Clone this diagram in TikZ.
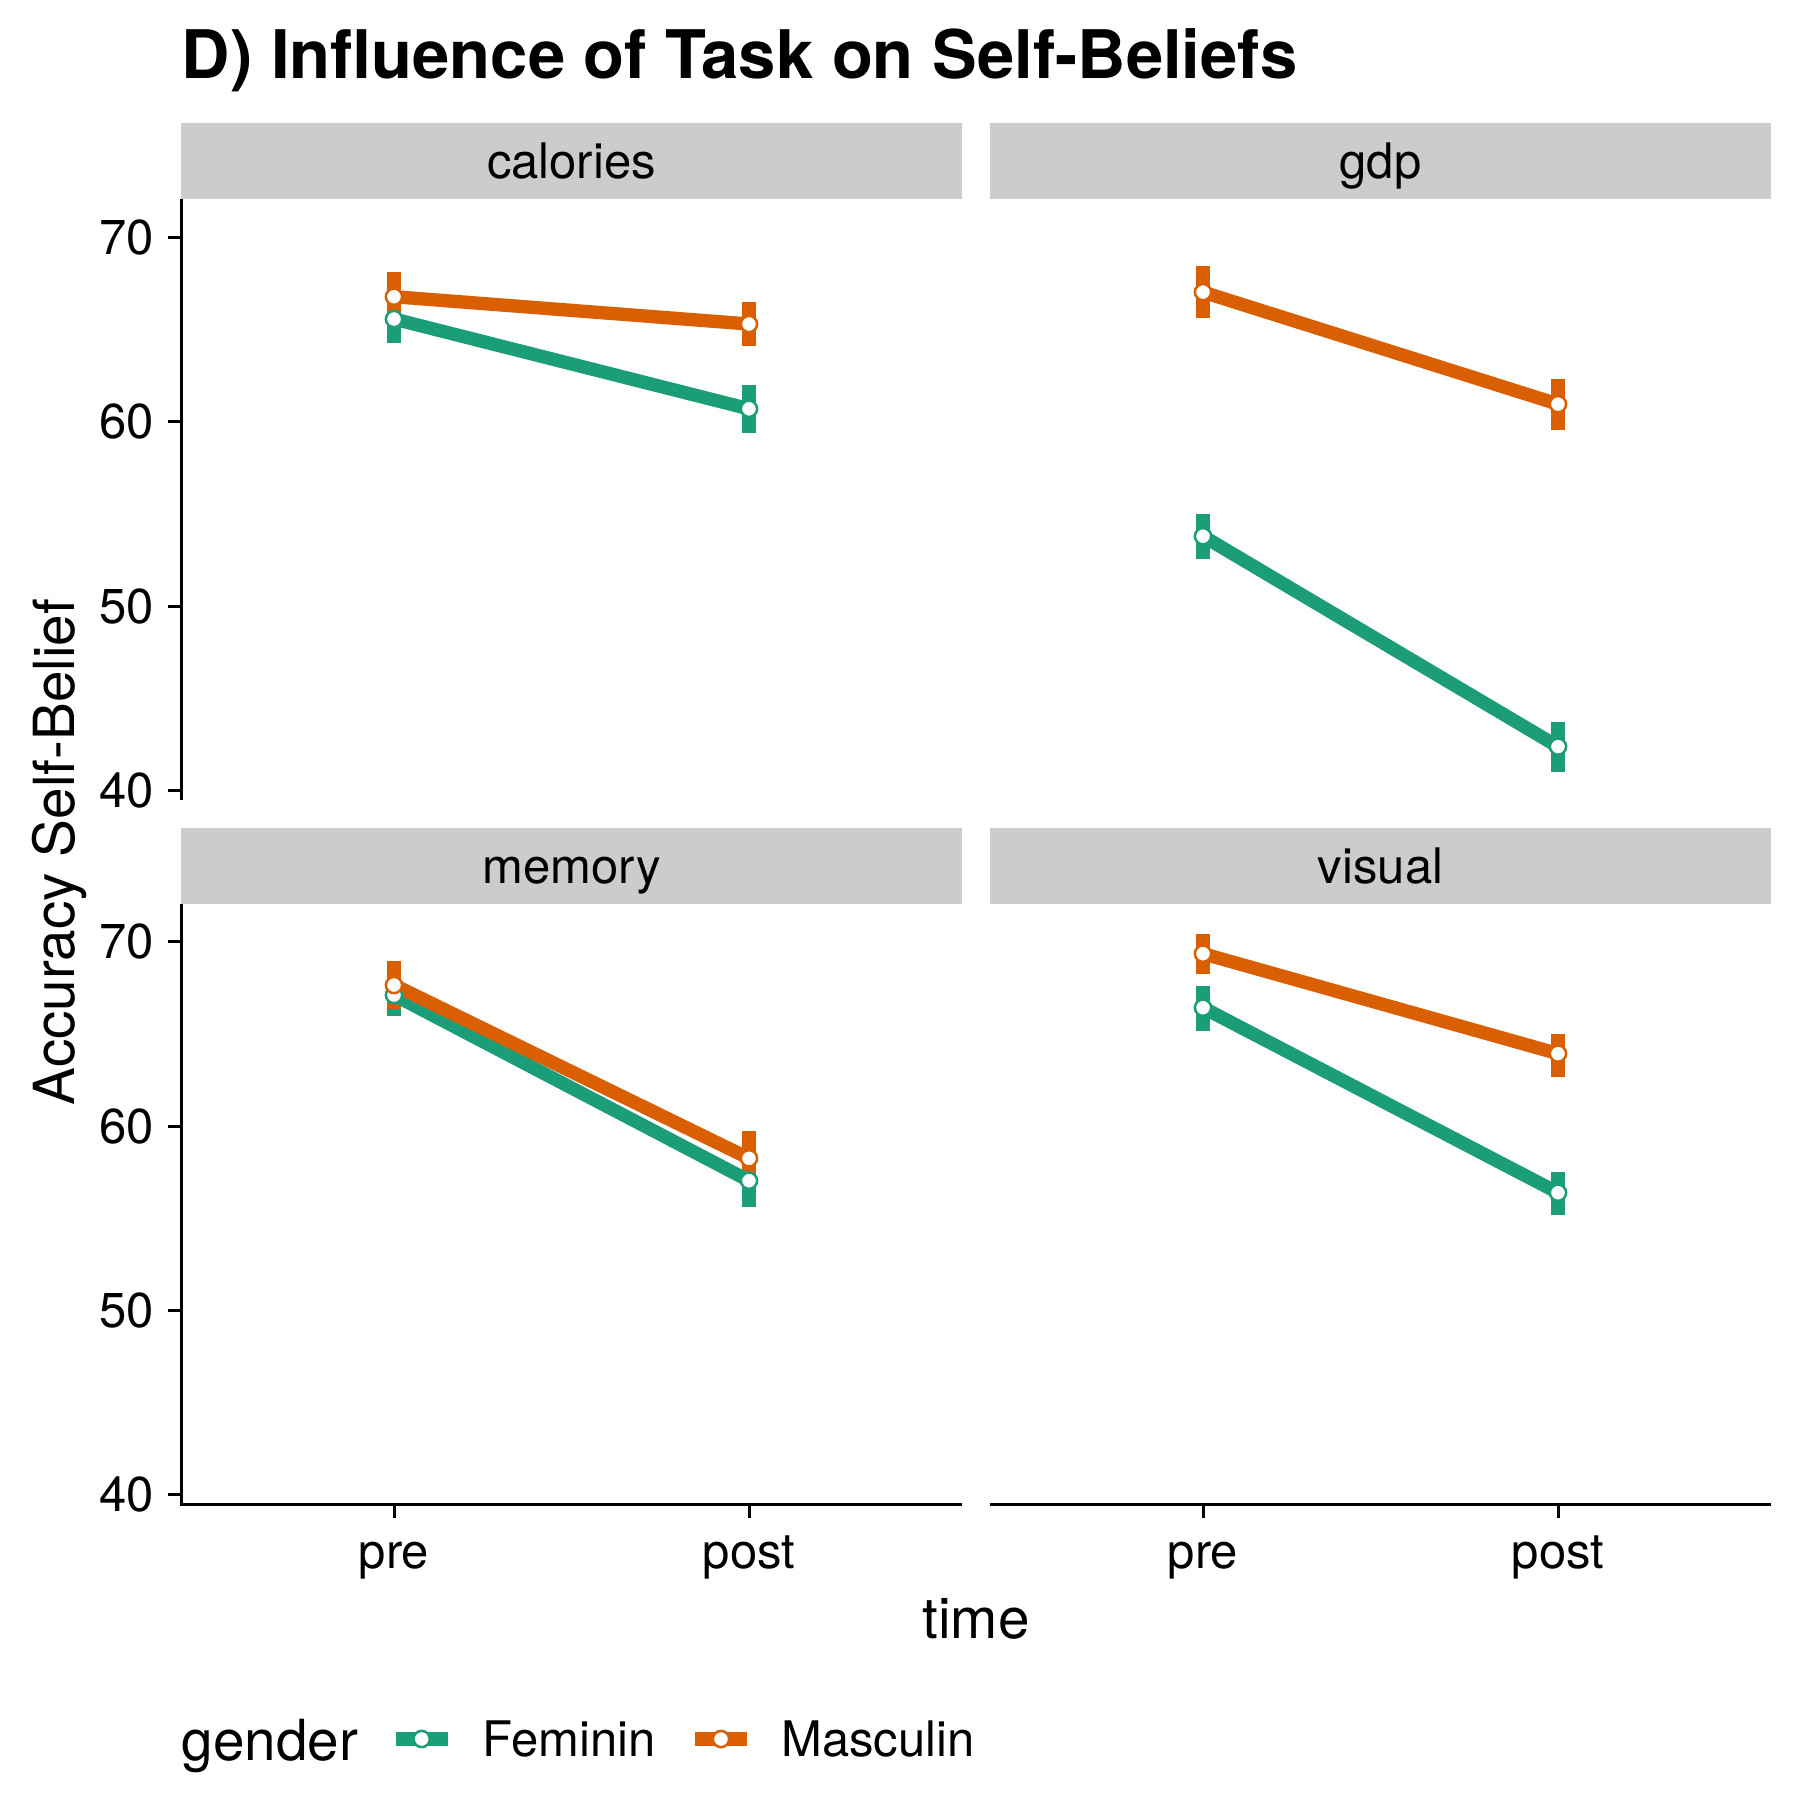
\documentclass[tikz,border=0pt]{standalone}
\usepackage{fontspec}
\setmainfont{TeX Gyre Heros}
\usepackage{tikz}
\usetikzlibrary{positioning}

\definecolor{fem}{HTML}{1B9E77}
\definecolor{masc}{HTML}{D95F02}
\definecolor{stripgray}{HTML}{CCCCCC}

\begin{document}
\begin{tikzpicture}
[x=0.24pt,y=-0.24pt]
\tikzset{
	strip/.style = {fill = stripgray, inner sep = 0, minimum width = 187.44pt, minimum height = 18.24pt,
		text height = 8.6pt, text depth = 0pt, font = \fontsize{11.76pt}{14pt}\selectfont},
	axisline/.style = {line width = 0.72pt, line cap = butt},
	ticklabel/.style = {inner sep = 0, font = \fontsize{11.76pt}{14pt}\selectfont},
	axistitle/.style = {inner sep = 0, font = \fontsize{13.6pt}{16pt}\selectfont},
	fembar/.style = {draw = fem, line width = 3.2pt, line cap = butt},
	mascbar/.style = {draw = masc, line width = 3.2pt, line cap = butt},
	femline/.style = {draw = fem, line width = 3.2pt},
	mascline/.style = {draw = masc, line width = 3.2pt},
	fempoint/.style = {circle, draw = fem, fill = white, line width = 0.6pt, inner sep = 0, minimum size = 3.9pt},
	mascpoint/.style = {circle, draw = masc, fill = white, line width = 0.6pt, inner sep = 0, minimum size = 3.9pt}
}
\useasboundingbox[fill = white] (0,0) rectangle (1800,1800);

% title
\node(title) [anchor = base west, inner sep = 0, font = \fontsize{16.08pt}{19pt}\selectfont\bfseries]
	at (181,78) {D) Influence of Task on Self-Beliefs};

% strips
\node(calories) [strip] at (571.5,161) {calories};
\node(gdp) [strip] at (1380.5,161) {gdp};
\node(memory) [strip] at (571.5,866) {memory};
\node(visual) [strip] at (1380.5,866) {visual};

% axes
\draw[axisline] (181.5,199) -- (181.5,800);
\draw[axisline] (181.5,904.3) -- (181.5,1505.3);
\draw[axisline] (180,1504) -- (962,1504);
\draw[axisline] (990,1504) -- (1771,1504);

\draw[axisline] (168,237.3) -- (181.5,237.3);
\draw[axisline] (168,421.7) -- (181.5,421.7);
\draw[axisline] (168,606.1) -- (181.5,606.1);
\draw[axisline] (168,790.5) -- (181.5,790.5);
\draw[axisline] (168,941.7) -- (181.5,941.7);
\draw[axisline] (168,1126.1) -- (181.5,1126.1);
\draw[axisline] (168,1310.5) -- (181.5,1310.5);
\draw[axisline] (168,1494.9) -- (181.5,1494.9);

\draw[axisline] (394,1504) -- (394,1518);
\draw[axisline] (749,1504) -- (749,1518);
\draw[axisline] (1203,1504) -- (1203,1518);
\draw[axisline] (1558,1504) -- (1558,1518);

\node(y70a) [ticklabel, anchor = east] at (155,237.3) {70};
\node(y60a) [ticklabel, anchor = east] at (155,421.7) {60};
\node(y50a) [ticklabel, anchor = east] at (155,606.1) {50};
\node(y40a) [ticklabel, anchor = east] at (155,790.5) {40};
\node(y70b) [ticklabel, anchor = east] at (155,941.7) {70};
\node(y60b) [ticklabel, anchor = east] at (155,1126.1) {60};
\node(y50b) [ticklabel, anchor = east] at (155,1310.5) {50};
\node(y40b) [ticklabel, anchor = east] at (155,1494.9) {40};

\node(prea) [ticklabel, anchor = base] at (394,1568) {pre};
\node(posta) [ticklabel, anchor = base] at (749,1568) {post};
\node(preb) [ticklabel, anchor = base] at (1203,1568) {pre};
\node(postb) [ticklabel, anchor = base] at (1558,1568) {post};

\node(xtitle) [axistitle, anchor = base] at (976,1638.6) {time};
\node(ytitle) [axistitle, anchor = base, rotate = 90] at (75,852) {Accuracy Self-Belief};

% data points
\coordinate (calFpre) at (394,319);
\coordinate (calMpre) at (394,296.7);
\coordinate (calFpost) at (749,408.8);
\coordinate (calMpost) at (749,324);
\coordinate (gdpFpre) at (1203,536.2);
\coordinate (gdpMpre) at (1203,292.1);
\coordinate (gdpFpost) at (1558,746.6);
\coordinate (gdpMpost) at (1558,404.1);
\coordinate (memFpre) at (394,995);
\coordinate (memMpre) at (394,985);
\coordinate (memFpost) at (749,1180.7);
\coordinate (memMpost) at (749,1158.3);
\coordinate (visFpre) at (1203,1007.7);
\coordinate (visMpre) at (1203,953.7);
\coordinate (visFpost) at (1558,1192.7);
\coordinate (visMpost) at (1558,1053.6);

% error bars
\draw[fembar] (394,294.7) -- (394,343.3);
\draw[fembar] (749,385) -- (749,433);
\draw[mascbar] (394,271.7) -- (394,321.7);
\draw[mascbar] (749,302) -- (749,346);

\draw[fembar] (1203,513.8) -- (1203,559.3);
\draw[fembar] (1558,721.7) -- (1558,771.7);
\draw[mascbar] (1203,266.2) -- (1203,317.6);
\draw[mascbar] (1558,378.6) -- (1558,430.3);

\draw[fembar] (394,974) -- (394,1016);
\draw[fembar] (749,1155) -- (749,1206.7);
\draw[mascbar] (394,960.7) -- (394,1009);
\draw[mascbar] (749,1130.7) -- (749,1186);

\draw[fembar] (1203,986) -- (1203,1031);
\draw[fembar] (1558,1172) -- (1558,1214.5);
\draw[mascbar] (1203,934) -- (1203,974);
\draw[mascbar] (1558,1034) -- (1558,1077);

% lines
\draw[femline] (calFpre) -- (calFpost);
\draw[mascline] (calMpre) -- (calMpost);
\draw[femline] (gdpFpre) -- (gdpFpost);
\draw[mascline] (gdpMpre) -- (gdpMpost);
\draw[femline] (memFpre) -- (memFpost);
\draw[mascline] (memMpre) -- (memMpost);
\draw[femline] (visFpre) -- (visFpost);
\draw[mascline] (visMpre) -- (visMpost);

% points
\node(cfa) [fempoint] at (calFpre) {};
\node(cfb) [fempoint] at (calFpost) {};
\node(cma) [mascpoint] at (calMpre) {};
\node(cmb) [mascpoint] at (calMpost) {};
\node(gfa) [fempoint] at (gdpFpre) {};
\node(gfb) [fempoint] at (gdpFpost) {};
\node(gma) [mascpoint] at (gdpMpre) {};
\node(gmb) [mascpoint] at (gdpMpost) {};
\node(mfa) [fempoint] at (memFpre) {};
\node(mfb) [fempoint] at (memFpost) {};
\node(mma) [mascpoint] at (memMpre) {};
\node(mmb) [mascpoint] at (memMpost) {};
\node(vfa) [fempoint] at (visFpre) {};
\node(vfb) [fempoint] at (visFpost) {};
\node(vma) [mascpoint] at (visMpre) {};
\node(vmb) [mascpoint] at (visMpost) {};

% legend
\node(gender) [axistitle, anchor = base west] at (181,1760.7) {gender};
\coordinate (femkeyl) at (396,1739);
\coordinate (femkeyr) at (447.7,1739);
\coordinate (masckeyl) at (695,1739);
\coordinate (masckeyr) at (747,1739);
\draw[fembar] (femkeyl) -- (femkeyr);
\draw[mascbar] (masckeyl) -- (masckeyr);
\node(femkey) [fempoint] at (421.7,1739) {};
\node(masckey) [mascpoint] at (721,1739) {};
\node(feminin) [ticklabel, anchor = base west] at (482,1756.7) {Feminin};
\node(masculin) [ticklabel, anchor = base west] at (780.5,1756.7) {Masculin};

\end{tikzpicture}
\end{document}
